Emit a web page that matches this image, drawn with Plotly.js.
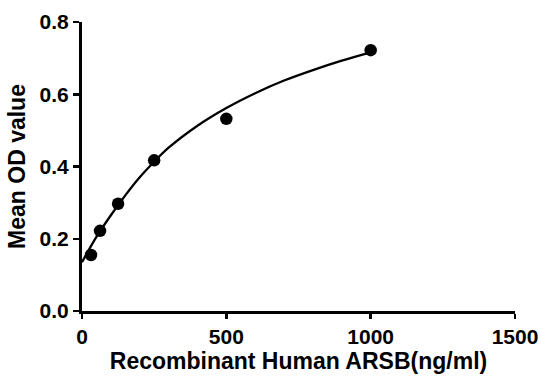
<!DOCTYPE html>
<html>
<head>
<meta charset="utf-8">
<script src="https://cdn.plot.ly/plotly-3.0.1.min.js"></script>
<style>html,body{margin:0;padding:0;background:#fff;}#chart{width:540px;height:379px;}</style>
</head>
<body>
<div id="chart"></div>
<script>
// Measured standards
const concentration = [31.25, 62.5, 125, 250, 500, 1000];
const meanOD = [0.155, 0.222, 0.297, 0.417, 0.532, 0.722];

// Fitted curve
const curveX = [0, 50, 100, 150, 200, 250, 300, 400, 500, 600, 700, 800, 900, 1000];
const curveY = [0.135, 0.205, 0.265, 0.32, 0.37, 0.413, 0.452, 0.513, 0.562, 0.603, 0.638, 0.667, 0.693, 0.716];

const xTicks = [0, 500, 1000, 1500];
const yTicks = [0.0, 0.2, 0.4, 0.6, 0.8];
const yTickText = ['0.0', '0.2', '0.4', '0.6', '0.8'];

const font = 'Liberation Sans, Arial, sans-serif';

const traces = [
  {
    x: curveX, y: curveY, type: 'scatter', mode: 'lines',
    line: {color: '#000', width: 2.3, shape: 'spline', smoothing: 1},
    hoverinfo: 'skip', showlegend: false
  },
  {
    x: concentration, y: meanOD, type: 'scatter', mode: 'markers',
    marker: {color: '#000', size: 12.5, symbol: 'circle'},
    showlegend: false, cliponaxis: false
  }
];

const layout = {
  width: 540, height: 379,
  margin: {l: 82, r: 25, t: 22, b: 68},
  paper_bgcolor: '#fff', plot_bgcolor: '#fff',
  font: {family: font, color: '#000'},
  xaxis: {
    range: [0, 1500], tickvals: xTicks, ticktext: xTicks.map(v => '<b>' + v + '</b>'),
    showgrid: false, zeroline: false, showline: true, linecolor: '#000', linewidth: 3,
    ticks: 'outside', ticklen: 5, tickwidth: 2.5, tickcolor: '#000',
    tickfont: {family: font, size: 21, color: '#000'},
    title: {text: '<b>Recombinant Human ARSB(ng/ml)</b>', font: {family: font, size: 23, color: '#000'}, standoff: 4},
    fixedrange: true
  },
  yaxis: {
    range: [0, 0.8], tickvals: yTicks, ticktext: yTickText.map(t => '<b>' + t + '</b>'),
    showgrid: false, zeroline: false, showline: true, linecolor: '#000', linewidth: 3,
    ticks: 'outside', ticklen: 6, tickwidth: 2.5, tickcolor: '#000',
    tickfont: {family: font, size: 21, color: '#000'},
    title: {text: '<b>Mean OD value</b>', font: {family: font, size: 23, color: '#000'}, standoff: 8},
    fixedrange: true
  }
};

Plotly.newPlot('chart', traces, layout, {displayModeBar: false, staticPlot: true});
</script>
</body>
</html>
